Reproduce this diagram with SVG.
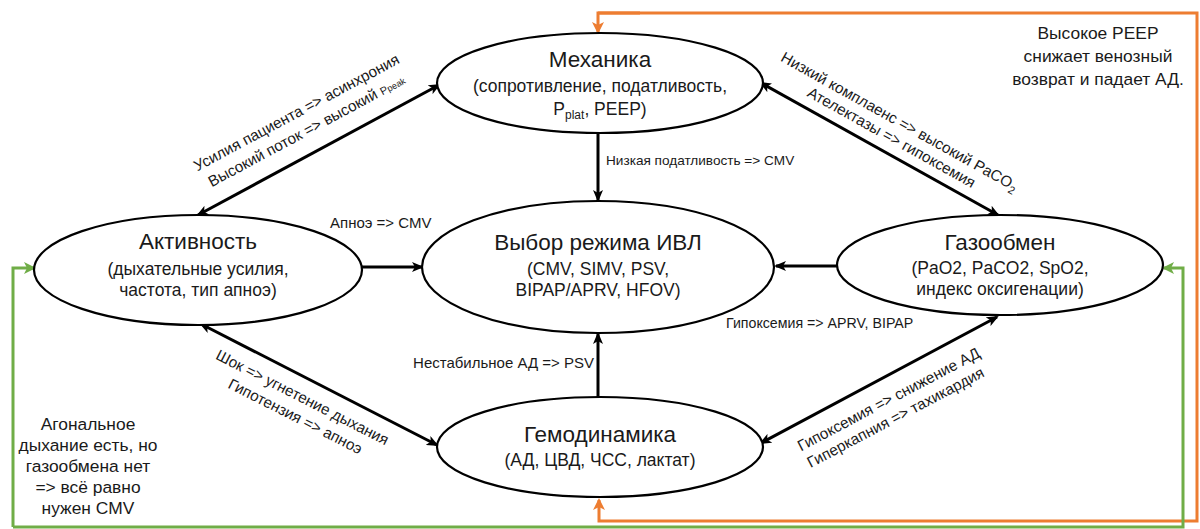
<svg xmlns="http://www.w3.org/2000/svg" width="1200" height="529" viewBox="0 0 1200 529">
<defs>
<style>
text{font-family:"Liberation Sans",Arial,sans-serif;fill:#1a1a1a}
.node ellipse{fill:#fff;stroke:#000;stroke-width:2.2}
.title{font-size:22.5px;text-anchor:middle}
.sub{font-size:17.5px;text-anchor:middle}
.lbl{font-size:13.6px}
.rl{font-size:15.3px;text-anchor:middle}
.note{font-size:17.4px;text-anchor:middle}
.conn line{stroke:#000;stroke-width:3}
.orange{fill:none;stroke:#ED7D31;stroke-width:3}
.green{fill:none;stroke:#70AD47;stroke-width:3}
</style>
<marker id="ah" viewBox="0 0 12 10" markerWidth="12" markerHeight="10" refX="10" refY="5" orient="auto-start-reverse" markerUnits="userSpaceOnUse">
<path d="M0,0 L12,5 L0,10 L3,5 z" fill="#000"/>
</marker>
<marker id="ao" viewBox="0 0 12 12" markerWidth="12" markerHeight="12" refX="10" refY="6" orient="auto" markerUnits="userSpaceOnUse">
<path d="M0,0 L12,6 L0,12 L3,6 z" fill="#ED7D31"/>
</marker>
<marker id="ag" viewBox="0 0 12 12" markerWidth="12" markerHeight="12" refX="10" refY="6" orient="auto" markerUnits="userSpaceOnUse">
<path d="M0,0 L12,6 L0,12 L3,6 z" fill="#70AD47"/>
</marker>
</defs>
<rect width="1200" height="529" fill="#fff"/>

<g id="feedback">
<path class="orange" d="M598,13 L1197,13 L1197,521 L599,521 L599,500" marker-end="url(#ao)"/>
<path class="orange" d="M640,13 L598,13 L598,32" marker-end="url(#ao)"/>
<path class="green" d="M13,527 L13,268 L34,268" marker-end="url(#ag)"/>
<path class="green" d="M13,527 L1183,527 L1183,268 L1164,268" marker-end="url(#ag)"/>
</g>

<g id="connectors" class="conn">
<line x1="198" y1="215" x2="439" y2="85" marker-start="url(#ah)" marker-end="url(#ah)"/>
<line x1="761" y1="83" x2="998" y2="215" marker-start="url(#ah)" marker-end="url(#ah)"/>
<line x1="201" y1="324" x2="437" y2="445" marker-start="url(#ah)" marker-end="url(#ah)"/>
<line x1="997" y1="317" x2="761" y2="443" marker-start="url(#ah)" marker-end="url(#ah)"/>
<line x1="598" y1="133" x2="598" y2="200" marker-end="url(#ah)"/>
<line x1="362" y1="267" x2="422" y2="267" marker-end="url(#ah)"/>
<line x1="837" y1="266" x2="776" y2="266" marker-end="url(#ah)"/>
<line x1="598" y1="397" x2="598" y2="334" marker-end="url(#ah)"/>
</g>

<g id="labels">
<text class="lbl" x="606" y="165">Низкая податливость =&gt; CMV</text>
<text class="lbl" x="330" y="228" style="font-size:15px">Апноэ =&gt; CMV</text>
<text class="lbl" x="594" y="368" style="font-size:15px;text-anchor:end">Нестабильное АД =&gt; PSV</text>
<text class="lbl" x="726" y="328" style="font-size:14.2px">Гипоксемия =&gt; APRV, BIPAP</text>
<text class="rl" transform="translate(299,117) rotate(-28.2)">Усилия пациента =&gt; асинхрония</text>
<text class="rl" transform="translate(309,135) rotate(-28.2)">Высокий поток =&gt; высокий <tspan font-size="11">P</tspan><tspan font-size="9">peak</tspan></text>
<text class="rl" transform="translate(897,126) rotate(29.2)">Низкий комплаенс =&gt; высокий PaCO<tspan font-size="11" dy="4">2</tspan></text>
<text class="rl" transform="translate(889,142) rotate(29.2)">Ателектазы =&gt; гипоксемия</text>
<text class="rl" transform="translate(300,402) rotate(27)">Шок =&gt; угнетение дыхания</text>
<text class="rl" transform="translate(293,421) rotate(27)">Гипотензия =&gt; апноэ</text>
<text class="rl" transform="translate(891,404) rotate(-27.8)">Гипоксемия =&gt; снижение АД</text>
<text class="rl" transform="translate(898,422) rotate(-27.8)">Гиперкапния =&gt; тахикардия</text>
</g>

<g id="mechanics" class="node">
<ellipse cx="600" cy="83" rx="163" ry="50"/>
<text class="title" x="600" y="67">Механика</text>
<text class="sub" x="600" y="92">(сопротивление, податливость,</text>
<text class="sub" x="600" y="115">P<tspan font-size="12" dy="4">plat</tspan><tspan dy="-4">, PEEP)</tspan></text>
</g>

<g id="mode" class="node">
<ellipse cx="598" cy="267" rx="176" ry="66"/>
<text class="title" x="598" y="250">Выбор режима ИВЛ</text>
<text class="sub" x="598" y="275">(CMV, SIMV, PSV,</text>
<text class="sub" x="598" y="296">BIPAP/APRV, HFOV)</text>
</g>

<g id="activity" class="node">
<ellipse cx="198" cy="270" rx="164" ry="55"/>
<text class="title" x="198" y="249">Активность</text>
<text class="sub" x="198" y="275">(дыхательные усилия,</text>
<text class="sub" x="198" y="296">частота, тип апноэ)</text>
</g>

<g id="gas" class="node">
<ellipse cx="1000" cy="265" rx="163" ry="50"/>
<text class="title" x="1000" y="250">Газообмен</text>
<text class="sub" x="1000" y="274">(PaO2, PaCO2, SpO2,</text>
<text class="sub" x="1000" y="295">индекс оксигенации)</text>
</g>

<g id="hemo" class="node">
<ellipse cx="600" cy="447" rx="163" ry="50"/>
<text class="title" x="600" y="442">Гемодинамика</text>
<text class="sub" x="600" y="466">(АД, ЦВД, ЧСС, лактат)</text>
</g>

<g id="notes">
<text class="note" x="1098" y="39">Высокое PEEP</text>
<text class="note" x="1098" y="62">снижает венозный</text>
<text class="note" x="1098" y="85">возврат и падает АД.</text>
<text class="note" x="88" y="430">Агональное</text>
<text class="note" x="88" y="451">дыхание есть, но</text>
<text class="note" x="88" y="472">газообмена нет</text>
<text class="note" x="88" y="493">=&gt; всё равно</text>
<text class="note" x="88" y="514">нужен CMV</text>
</g>
</svg>
